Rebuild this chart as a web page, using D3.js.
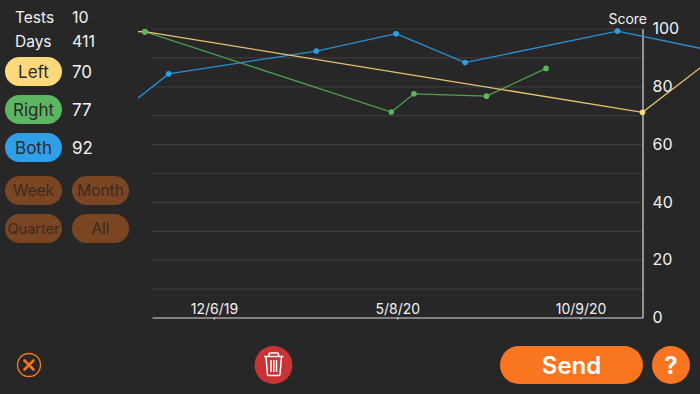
<!DOCTYPE html>
<html lang="en">
<head>
  <meta charset="UTF-8"/>
  <script src="https://d3js.org/d3.v7.min.js"></script>
  <style>
html, body { margin: 0; padding: 0; background: #272727; }
svg { display: block; }
text { font-family: Inter, 'Open Sans', sans-serif; fill: #f2f2f2; }
.axis path, .axis line { stroke: #dcdcdc; stroke-width: 1.2; }
.axis text { font-family: Inter, 'Open Sans', sans-serif; fill: #f2f2f2; }
.grid path { stroke: none; }
.grid line { stroke: #3d3d3d; stroke-width: 1.2; }
.series { fill: none; stroke-width: 1.3; }
  </style>
</head>
<body>
<svg width="700" height="394"></svg>
<script>
const leftDates = ['2019-09-25', '2019-10-09', '2020-11-30', '2021-02-20'];
const leftScores = [98.9, 98.9, 71, 97];
const rightDates = ['2019-09-25', '2019-10-09', '2020-05-03', '2020-05-22', '2020-07-22', '2020-09-10'];
const rightScores = [98.9, 98.9, 71.1, 77.4, 76.6, 86.2];
const bothDates = ['2019-09-25', '2019-10-29', '2020-03-01', '2020-05-07', '2020-07-04', '2020-11-09', '2021-02-20'];
const bothScores = [73.2, 84.3, 92.2, 98.2, 88.2, 99.1, 90.3];

const xTicks = ['2019-12-06', '2020-05-08', '2020-10-09'];
const xTickLabels = ['12/6/19', '5/8/20', '10/9/20'];
const yTicks = [0, 20, 40, 60, 80, 100];
const gridTicks = [10, 20, 30, 40, 50, 60, 70, 80, 90, 100];

const statLabels = ['Tests', 'Days'];
const statValues = [10, 411];
const seriesNames = ['Left', 'Right', 'Both'];
const seriesLatest = [70, 77, 92];
const seriesColors = ['#ffd97c', '#5cb560', '#2f9fe8'];
const lineColors = ['#e8c370', '#4f9f53', '#2a90d2'];
const rangeButtons = ['Week', 'Month', 'Quarter', 'All'];

const parseDate = d3.timeParse('%Y-%m-%d');
const svg = d3.select('svg');

const xScale = d3.scaleTime()
  .domain([parseDate('2019-10-15'), parseDate('2020-11-30')])
  .range([152, 642.5]);
const yScale = d3.scaleLinear().domain([0, 100]).range([317.5, 28.5]);

// grid
svg.append('g')
  .attr('class', 'grid')
  .attr('transform', 'translate(642.5,0)')
  .call(d3.axisLeft(yScale).tickValues(gridTicks).tickSize(490.5).tickFormat(''));

// axes
const xAxis = svg.append('g')
  .attr('class', 'axis')
  .attr('transform', 'translate(0,317.5)')
  .call(d3.axisTop(xScale)
    .tickValues(xTicks.map(parseDate))
    .tickSizeInner(-2)
    .tickSizeOuter(0)
    .tickPadding(4)
    .tickFormat((d, i) => xTickLabels[i]));
xAxis.selectAll('text').style('font-size', '14px');

const yAxis = svg.append('g')
  .attr('class', 'axis')
  .attr('transform', 'translate(642.5,0)')
  .call(d3.axisRight(yScale)
    .tickValues(yTicks)
    .tickSize(0)
    .tickPadding(10));
yAxis.selectAll('text').style('font-size', '16px').attr('text-anchor', 'start');

svg.append('text')
  .attr('x', 647)
  .attr('y', 24)
  .attr('text-anchor', 'end')
  .style('font-size', '14px')
  .text('Score');

// series
svg.append('clipPath').attr('id', 'plot')
  .append('rect').attr('x', 138).attr('y', 0).attr('width', 562).attr('height', 330);

const plot = svg.append('g').attr('clip-path', 'url(#plot)');
const line = d3.line().x(d => xScale(d.date)).y(d => yScale(d.score));

const zip = (dates, scores) => dates.map((d, i) => ({ date: parseDate(d), score: scores[i] }));
const allSeries = [
  { color: seriesColors[2], stroke: lineColors[2], points: zip(bothDates, bothScores) },
  { color: seriesColors[1], stroke: lineColors[1], points: zip(rightDates, rightScores) },
  { color: seriesColors[0], stroke: lineColors[0], points: zip(leftDates, leftScores) }
];

allSeries.forEach(s => {
  plot.append('path')
    .attr('class', 'series')
    .attr('stroke', s.stroke)
    .attr('d', line(s.points));
});
// left-most point of each series is only there to carry the line off the edge
[allSeries[0], allSeries[2], allSeries[1]].forEach(s => {
  plot.selectAll(null)
    .data(s.points.slice(1))
    .enter().append('circle')
    .attr('cx', d => xScale(d.date))
    .attr('cy', d => yScale(d.score))
    .attr('r', 2.8)
    .attr('fill', s.color);
});

// side panel
const stats = svg.append('g');
statLabels.forEach((label, i) => {
  stats.append('text').attr('x', 15).attr('y', 23 + i * 24).style('font-size', '15.5px').text(label);
  stats.append('text').attr('x', 72).attr('y', 23 + i * 24).style('font-size', '16px').text(statValues[i]);
});

function pill(g, x, y, w, h, fill, label, textFill, size) {
  g.append('rect').attr('x', x).attr('y', y).attr('width', w).attr('height', h)
    .attr('rx', h / 2).attr('fill', fill);
  g.append('text').attr('x', x + w / 2).attr('y', y + h / 2).attr('dy', '.36em')
    .attr('text-anchor', 'middle').style('font-size', size).style('fill', textFill).text(label);
}

seriesNames.forEach((name, i) => {
  const y = 57 + i * 38;
  pill(svg, 5, y, 57, 29, seriesColors[i], name, '#2b2b2b', '17px');
  svg.append('text').attr('x', 72).attr('y', y + 14.5).attr('dy', '.36em')
    .style('font-size', '17px').text(seriesLatest[i]);
});

rangeButtons.forEach((name, i) => {
  const x = 5 + (i % 2) * 67;
  const y = 176 + Math.floor(i / 2) * 38;
  pill(svg, x, y, 57, 29, '#7a4522', name, '#3c2c20', i === 2 ? '14.5px' : '15.5px');
});

// bottom bar
const orange = '#fa7520';
svg.append('circle').attr('cx', 29).attr('cy', 365).attr('r', 11.5)
  .attr('fill', 'none').attr('stroke', orange).attr('stroke-width', 1.4);
svg.append('path').attr('d', 'M24.5 360.5L33.5 369.5M33.5 360.5L24.5 369.5')
  .attr('stroke', orange).attr('stroke-width', 2.6).attr('stroke-linecap', 'round');

svg.append('circle').attr('cx', 273.5).attr('cy', 365).attr('r', 19).attr('fill', '#c93333');
svg.append('path')
  .attr('d', 'M264 356.5H283.5M269 356.5V354Q269 353 270 353H277.5Q278.5 353 278.5 354V356.5M266 356.5L267.5 374.5Q267.6 375.5 268.5 375.5H279Q279.9 375.5 280 374.5L281.5 356.5M271 360V372M273.75 360V372M276.5 360V372')
  .attr('fill', 'none').attr('stroke', '#fff').attr('stroke-width', 1.5);

pill(svg, 500, 346, 143, 38, orange, 'Send', '#fff', '24px');
svg.append('circle').attr('cx', 671).attr('cy', 365).attr('r', 19).attr('fill', orange);
svg.append('text').attr('x', 671).attr('y', 365).attr('dy', '.36em').attr('text-anchor', 'middle')
  .style('font-size', '24px').style('font-weight', 700).style('fill', '#fff').text('?');
svg.selectAll('text').filter(function () { return this.textContent === 'Send'; }).style('font-weight', 600);
</script>
</body>
</html>
